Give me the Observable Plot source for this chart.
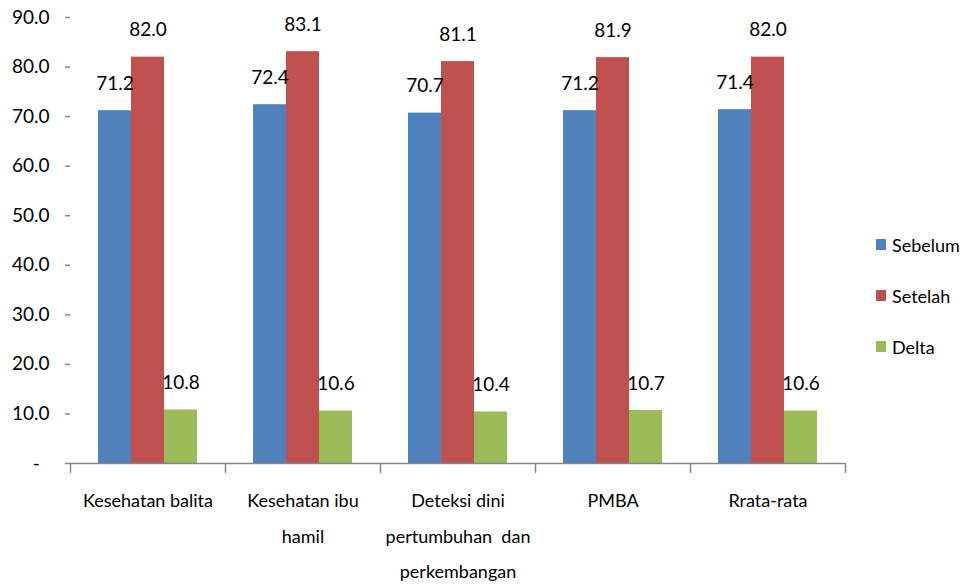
<!DOCTYPE html>
<html>
<head>
<meta charset="utf-8">
<script src="https://cdn.jsdelivr.net/npm/d3@7"></script>
<script src="https://cdn.jsdelivr.net/npm/@observablehq/plot@0.6"></script>
<style>
  html, body { margin: 0; padding: 0; background: #fff; }
  #wrap { position: relative; width: 960px; height: 585px; font-family: Lato, "Open Sans", sans-serif; }
  #legend { position: absolute; left: 876px; top: 219px; font-size: 18px; color: #000; }
  #legend .item { display: flex; align-items: center; height: 51px; }
  #legend .sw { width: 10px; height: 11px; margin-right: 6px; }
  svg text { white-space: pre; }
</style>
</head>
<body>
<div id="wrap"><div id="chart"></div><div id="legend"></div></div>
<script>
const categories = ["Kesehatan balita", "Kesehatan ibu hamil", "Deteksi dini pertumbuhan dan perkembangan", "PMBA", "Rrata-rata"];
const categoryLabels = ["Kesehatan balita", "Kesehatan ibu\nhamil", "Deteksi dini\npertumbuhan  dan\nperkembangan", "PMBA", "Rrata-rata"];
const series = ["Sebelum", "Setelah", "Delta"];
const sebelum = [71.2, 72.4, 70.7, 71.2, 71.4];
const setelah = [82.0, 83.1, 81.1, 81.9, 82.0];
const delta = [10.8, 10.6, 10.4, 10.7, 10.6];
const colors = ["#4F81BD", "#C0504D", "#9BBB59"];
const yTicks = [0, 10, 20, 30, 40, 50, 60, 70, 80, 90];

const seriesValues = [sebelum, setelah, delta];
const rows = [];
categories.forEach((c, i) => series.forEach((s, j) => rows.push({cat: c, series: s, value: seriesValues[j][i]})));
const labelRows = categories.map((c, i) => ({cat: c, label: categoryLabels[i]}));

const FONT = 'Lato, "Open Sans", sans-serif';
const AXIS = "#868686";
const tickShape = {draw(context, l) { context.moveTo(0, 0); context.lineTo(0, -l); }};

const chart = Plot.plot({
  width: 960,
  height: 585,
  marginLeft: 69,
  marginRight: 114,
  marginTop: 17,
  marginBottom: 122,
  style: {fontFamily: FONT, background: "#fff", color: "#000"},
  fx: {domain: categories, padding: 0, axis: null},
  x: {domain: series, paddingInner: 0, paddingOuter: 0.79, axis: null},
  y: {domain: [0, 90], axis: null},
  color: {domain: series, range: colors},
  marks: [
    Plot.barY(rows, {fx: "cat", x: "series", y: "value", fill: "series"}),
    Plot.ruleY([0], {stroke: AXIS, strokeWidth: 1.5}),
    Plot.axisY({ticks: yTicks, tickSize: 5, tickPadding: 16, line: true, stroke: AXIS, strokeWidth: 1.5, fill: "#000", fontSize: 19, label: null,
      tickFormat: d => d === 0 ? "-\u00a0\u00a0" : d.toFixed(1)}),
    Plot.vector(categories, {fx: d => d, frameAnchor: "bottom-left", length: 9, rotate: 180, anchor: "start", shape: tickShape, stroke: AXIS, strokeWidth: 1.5}),
    Plot.vector([categories[categories.length - 1]], {fx: d => d, frameAnchor: "bottom-right", length: 9, rotate: 180, anchor: "start", shape: tickShape, stroke: AXIS, strokeWidth: 1.5}),
    Plot.text(rows, {fx: "cat", x: "series", y: "value", text: d => d.value.toFixed(1), dy: -27, fontSize: 19, fill: "#000"}),
    Plot.text(labelRows, {fx: "cat", text: "label", frameAnchor: "bottom", lineAnchor: "top", dy: 19, lineHeight: 1.95, fontSize: 18, fill: "#000"})
  ]
});
document.getElementById("chart").appendChild(chart);

const legend = document.getElementById("legend");
series.forEach((s, i) => {
  const item = document.createElement("div");
  item.className = "item";
  item.innerHTML = `<div class="sw" style="background:${colors[i]}"></div><span>${s}</span>`;
  legend.appendChild(item);
});
</script>
</body>
</html>
